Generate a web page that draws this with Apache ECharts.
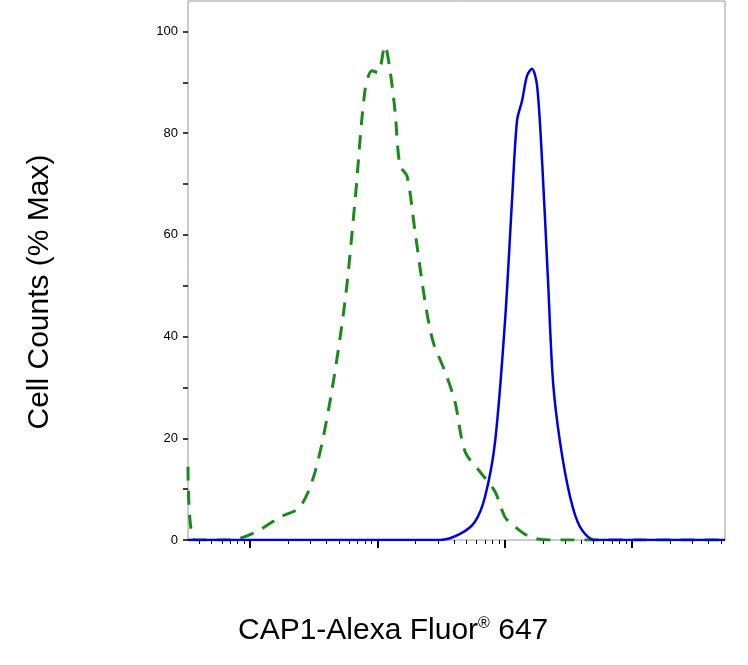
<!DOCTYPE html>
<html><head><meta charset="utf-8">
<script src="https://cdn.jsdelivr.net/npm/echarts@6/dist/echarts.min.js"></script>
<style>html,body{margin:0;padding:0;background:#fff}#c{width:748px;height:665px}</style>
</head><body><div id="c"></div>
<script>
// x values are log10 of fluorescence intensity
var isoX = [0.513,0.568,0.843,1.04,1.236,1.393,1.511,1.628,1.746,1.825,1.903,1.958,2.005,2.06,2.1,2.139,2.178,2.233,2.296,2.375,2.438,2.532,2.61,2.689,2.807,2.925,3.003,3.082,3.2,3.357,4.731];
var isoY = [14.4,0,0,1.5,4.5,6.5,13.4,27.2,46.9,66.7,88.4,92.3,91.9,97.2,92.3,84.4,73.6,71.6,60.7,46.9,39,33.1,27.2,17.4,13.4,9.5,4.5,2.6,0.6,0,0];
var capX = [0.513,2.493,2.65,2.767,2.846,2.925,3.003,3.058,3.097,3.137,3.176,3.215,3.255,3.294,3.341,3.38,3.435,3.514,3.592,3.71,4.731];
var capY = [0,0,1.2,3.6,8.5,19.3,43,66.7,82.4,86.4,91.3,92.7,89.3,74.6,50.9,31.2,19.3,8.5,2.6,0,0];
var yTicks = [0,20,40,60,80,100];

function pairs(xs, ys){ return xs.map(function(x,i){ return [x, ys[i]]; }); }
var majorX = [1,2,3,4];
var minorX = [];
for (var d = 0; d < 5; d++) for (var k = 2; k < 10; k++) {
  var v = d + Math.log10(k);
  if (v > 0.513 && v < 4.73) minorX.push(v);
}
var minorY = [];
for (var t = 0; t <= 100; t += 10) minorY.push(t);

var chart = echarts.init(document.getElementById('c'));
var xBase = {type:'value', min:0.513, max:4.731, position:'bottom',
  axisLine:{show:false}, splitLine:{show:false}, axisLabel:{show:false}};
chart.setOption({
  animation:false,
  grid:{left:188, right:23, top:1, bottom:125, show:true, borderColor:'#999', borderWidth:1},
  xAxis:[
    Object.assign({}, xBase, {axisTick:{show:true, inside:false, length:8, customValues:majorX, lineStyle:{color:'#000',width:2}}}),
    Object.assign({}, xBase, {axisTick:{show:true, inside:false, length:4, customValues:minorX, lineStyle:{color:'#000'}}})
  ],
  yAxis:[
    {type:'value', min:0, max:106, axisLine:{show:false}, splitLine:{show:false},
     axisTick:{show:true, length:5, customValues:minorY, lineStyle:{color:'#000', width:1.5}},
     axisLabel:{customValues:yTicks, color:'#000', fontSize:13, fontFamily:'Liberation Sans', margin:10}}
  ],
  graphic:[
    {type:'text', x:40, y:292, rotation:Math.PI/2,
     style:{text:'Cell Counts (% Max)', fontSize:30, fontFamily:'Liberation Sans', fill:'#000', align:'center', verticalAlign:'middle'}},
    {type:'text', left:238, top:616, style:{
      text:'CAP1-Alexa Fluor{s|®} 647',
      rich:{s:{fontSize:16, verticalAlign:'top', padding:[0,0,14,0], fontFamily:'Liberation Sans'}},
      fontSize:30, fontFamily:'Liberation Sans', fill:'#000'}}
  ],
  series:[
    {type:'line', xAxisIndex:0, data:pairs(isoX, isoY), showSymbol:false, smooth:0.3,
     lineStyle:{color:'#1a8a1a', width:3, type:[14,10]}},
    {type:'line', xAxisIndex:0, data:pairs(capX, capY), showSymbol:false, smooth:0.3,
     lineStyle:{color:'#0000e6', width:2.5}}
  ]
});
</script></body></html>
